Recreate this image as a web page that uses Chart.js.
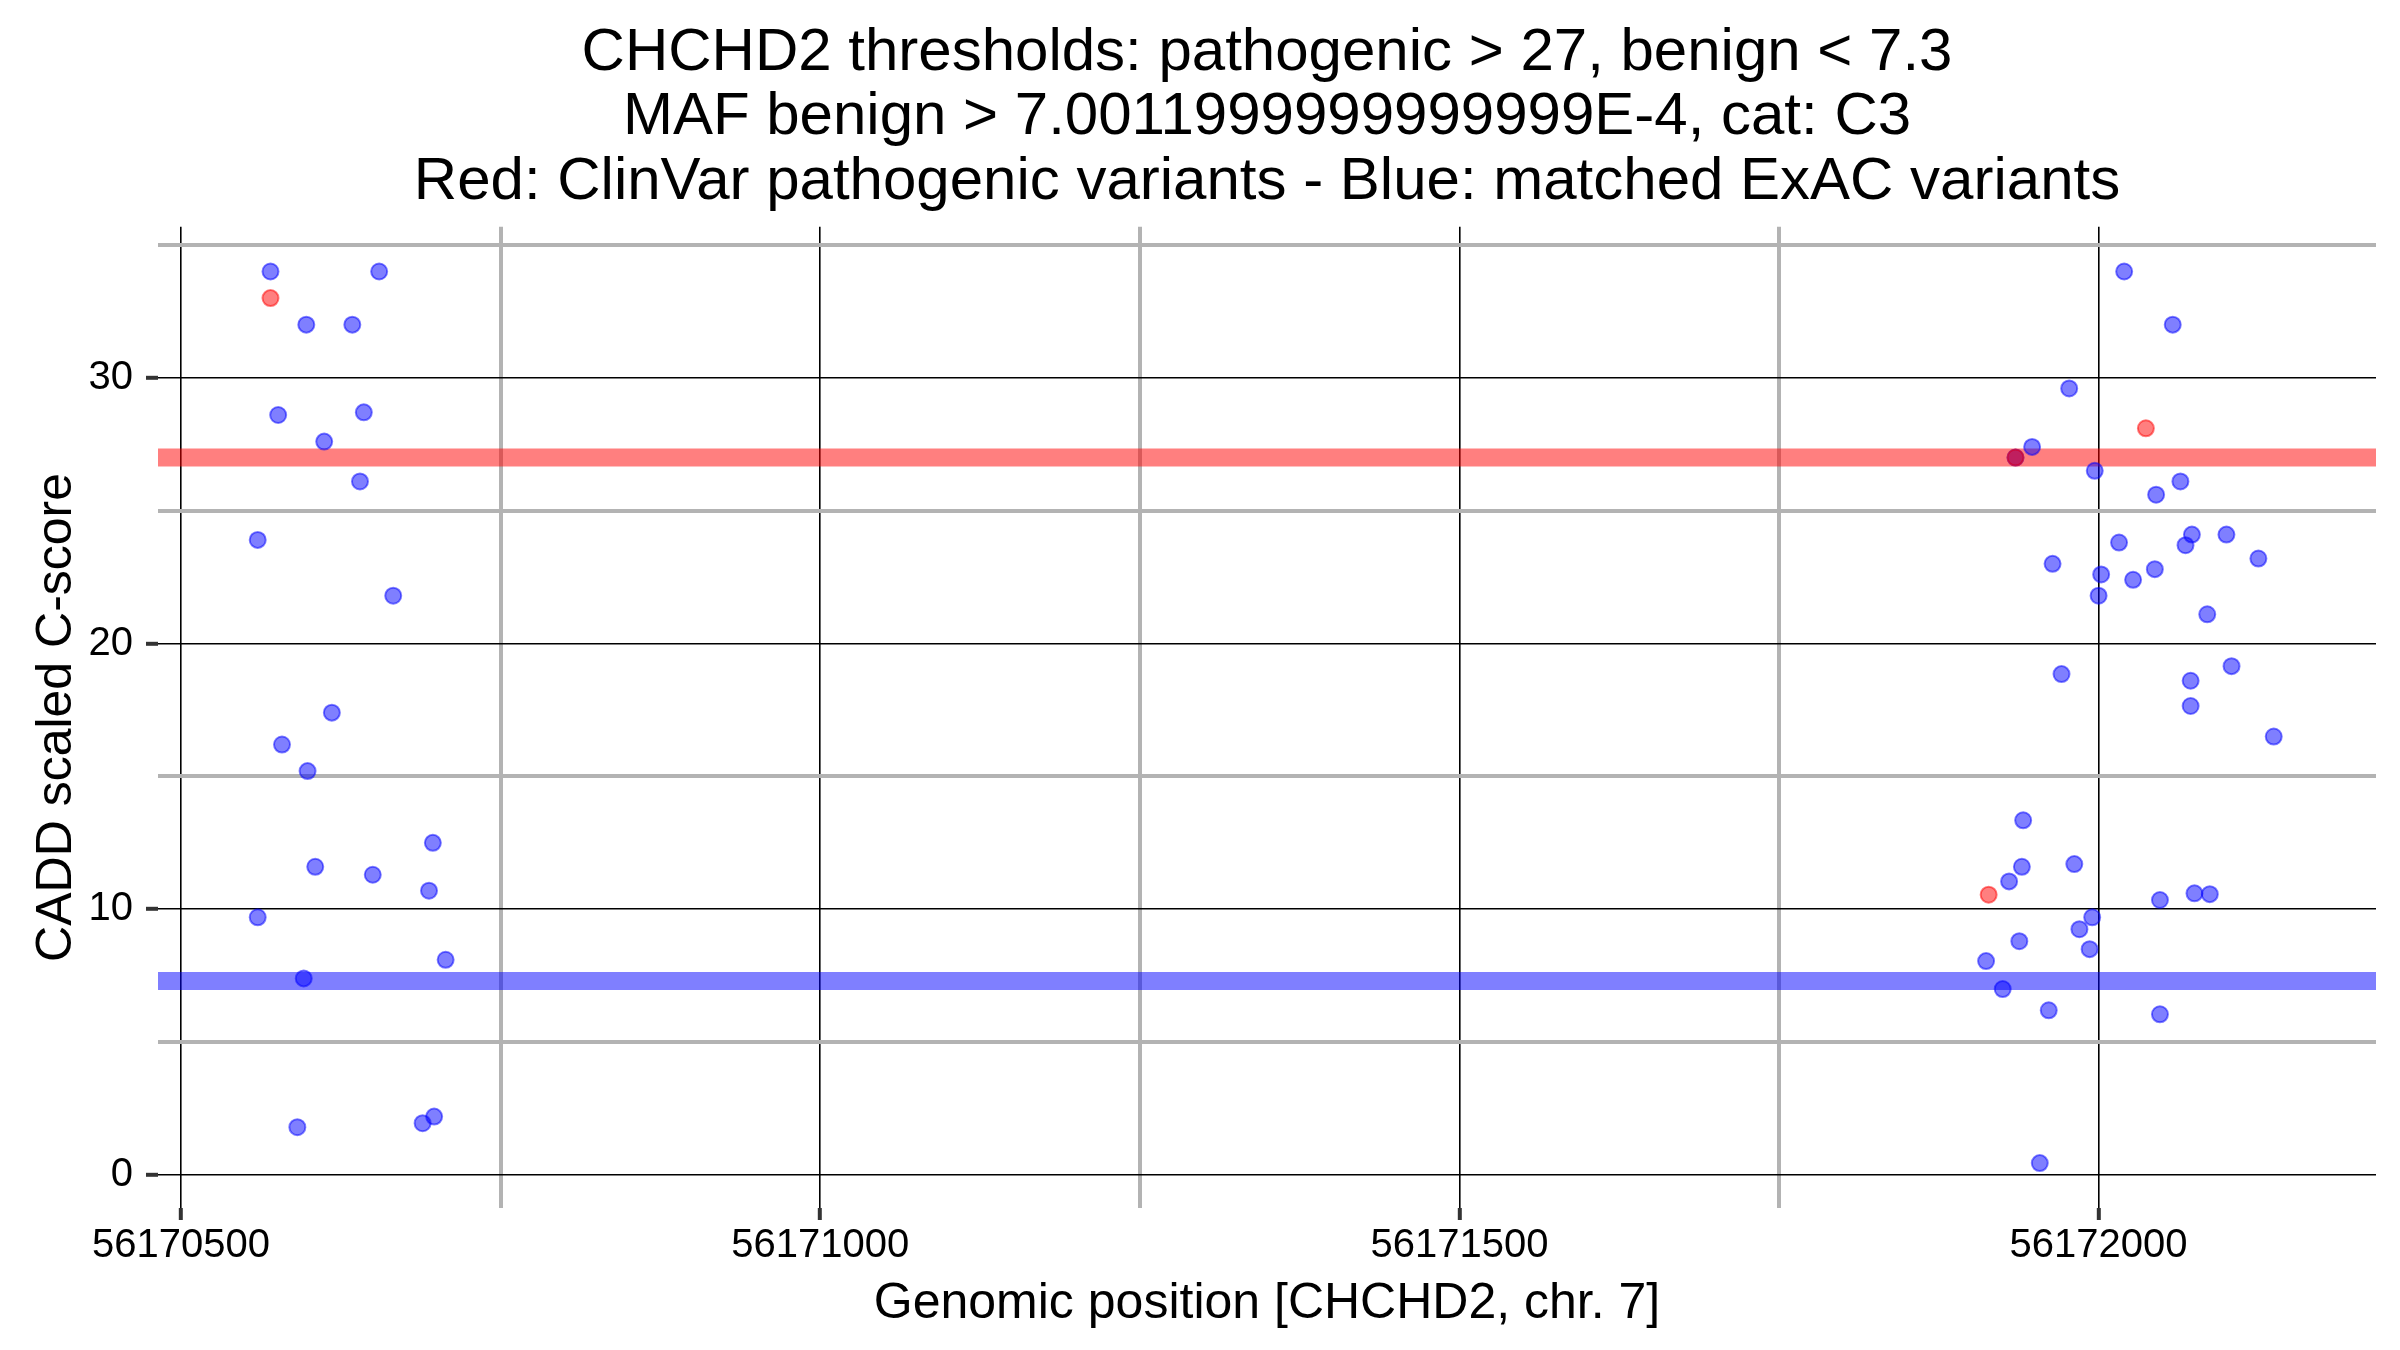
<!DOCTYPE html>
<html>
<head>
<meta charset="utf-8">
<script src="https://cdn.jsdelivr.net/npm/chart.js@4.4.1/dist/chart.umd.min.js"></script>
<style>
  html, body { margin: 0; padding: 0; background: #fff; }
  canvas { display: block; }
</style>
</head>
<body>
<canvas id="chart" width="2400" height="1350" style="width:2400px;height:1350px"></canvas>
<script>
const titleLines = [
    'CHCHD2 thresholds: pathogenic > 27, benign < 7.3',
    'MAF benign > 7.0011999999999999E-4, cat: C3',
    'Red: ClinVar pathogenic variants - Blue: matched ExAC variants'
];
const xTitle = 'Genomic position [CHCHD2, chr. 7]';
const yTitle = 'CADD scaled C-score';

const pathogenicThreshold = 27;
const benignThreshold = 7.3;

// axis ranges and ticks
const xMin = 56170482, xMax = 56172217;
const yMin = -1.24, yMax = 35.68;
const xMajorTicks = [56170500, 56171000, 56171500, 56172000];
const xMinorTicks = [56170750, 56171250, 56171750];
const yMajorTicks = [0, 10, 20, 30];
const yMinorTicks = [5, 15, 25, 35];

// matched ExAC variants (blue)
const exacPositions = [
    56170570, 56170655, 56170598, 56170634, 56170576, 56170643, 56170612, 56170640,
    56170560, 56170666, 56170618, 56170579, 56170599, 56170697, 56170605, 56170650,
    56170694, 56170560, 56170707, 56170596, 56170591, 56170689, 56170698,
    56172020, 56172058, 56171977, 56171948, 56171935, 56171997, 56172064, 56172045,
    56172073, 56172068, 56172100, 56172016, 56172125, 56171964, 56172002, 56172044,
    56172027, 56172000, 56172085, 56171971, 56172104, 56172072, 56172072, 56172137,
    56171941, 56171940, 56171981, 56171930, 56172048, 56172075, 56172087, 56171995,
    56171985, 56171938, 56171993, 56171912, 56171925, 56171961, 56172048, 56171954
];
const exacScores = [
    34.0, 34.0, 32.0, 32.0, 28.6, 28.7, 27.6, 26.1,
    23.9, 21.8, 17.4, 16.2, 15.2, 12.5, 11.6, 11.3,
    10.7, 9.7, 8.1, 7.4, 1.8, 1.95, 2.2,
    34.0, 32.0, 29.6, 27.4, 27.0, 26.5, 26.1, 25.6,
    24.1, 23.7, 24.1, 23.8, 23.2, 23.0, 22.6, 22.8,
    22.4, 21.8, 21.1, 18.85, 19.15, 18.6, 17.65, 16.5,
    13.35, 11.6, 11.7, 11.05, 10.35, 10.6, 10.57, 9.7,
    9.25, 8.8, 8.5, 8.05, 7.0, 6.2, 6.05, 0.45
];

// ClinVar pathogenic variants (red)
const clinvarPositions = [56170570, 56172037, 56171935, 56171914];
const clinvarScores = [33.0, 28.1, 27.0, 10.55];

const toPoints = (xs, ys) => xs.map((x, i) => ({ x: x, y: ys[i] }));

const xGridTicks = xMajorTicks.concat(xMinorTicks).sort((a, b) => a - b);
const yGridTicks = yMajorTicks.concat(yMinorTicks).sort((a, b) => a - b);

function gridStyle(majors) {
    const isMajor = ctx => ctx.tick && majors.includes(ctx.tick.value);
    return {
        color: ctx => isMajor(ctx) ? '#000000' : '#b3b3b3',
        lineWidth: ctx => isMajor(ctx) ? 1.6 : 4,
        tickColor: ctx => isMajor(ctx) ? '#333333' : 'rgba(0,0,0,0)',
        tickWidth: ctx => isMajor(ctx) ? 4 : 0,
        tickLength: 12
    };
}

Chart.defaults.font.family = '"Liberation Sans", Arial, sans-serif';
Chart.defaults.color = '#000';

new Chart(document.getElementById('chart').getContext('2d'), {
    type: 'scatter',
    data: {
        datasets: [
            {
                label: 'pathogenic threshold',
                data: [{ x: xMin, y: pathogenicThreshold }, { x: xMax, y: pathogenicThreshold }],
                showLine: true,
                borderColor: 'rgba(255,0,0,0.5)',
                borderWidth: 18,
                borderCapStyle: 'butt',
                pointRadius: 0,
                clip: 0,
                order: 3
            },
            {
                label: 'benign threshold',
                data: [{ x: xMin, y: benignThreshold }, { x: xMax, y: benignThreshold }],
                showLine: true,
                borderColor: 'rgba(0,0,255,0.5)',
                borderWidth: 18,
                borderCapStyle: 'butt',
                pointRadius: 0,
                clip: 0,
                order: 3
            },
            {
                label: 'matched ExAC variants',
                data: toPoints(exacPositions, exacScores),
                pointRadius: 8,
                pointBackgroundColor: 'rgba(0,0,255,0.5)',
                pointBorderColor: 'rgba(0,0,255,0.5)',
                pointBorderWidth: 2,
                order: 2
            },
            {
                label: 'ClinVar pathogenic variants',
                data: toPoints(clinvarPositions, clinvarScores),
                pointRadius: 8,
                pointBackgroundColor: 'rgba(255,0,0,0.5)',
                pointBorderColor: 'rgba(255,0,0,0.5)',
                pointBorderWidth: 2,
                order: 1
            }
        ]
    },
    options: {
        responsive: false,
        devicePixelRatio: 1,
        animation: false,
        layout: { padding: { left: 0, right: 24, top: 0, bottom: 0 } },
        plugins: {
            legend: { display: false },
            tooltip: { enabled: false },
            title: {
                display: true,
                fullSize: false,
                text: titleLines,
                color: '#000',
                font: { size: 60, weight: 'normal', lineHeight: 1.077 },
                padding: { top: 21, bottom: 12 }
            }
        },
        scales: {
            x: {
                type: 'linear',
                min: xMin,
                max: xMax,
                afterBuildTicks: s => { s.ticks = xGridTicks.map(v => ({ value: v })); },
                afterFit: s => { s.height = 142; },
                border: { display: false },
                grid: gridStyle(xMajorTicks),
                ticks: {
                    autoSkip: false,
                    maxRotation: 0,
                    padding: 2,
                    color: '#000',
                    font: { size: 40 },
                    callback: v => xMajorTicks.includes(v) ? String(v) : ''
                },
                title: {
                    display: true,
                    text: xTitle,
                    color: '#000',
                    font: { size: 50 },
                    padding: { top: 0, bottom: 16 }
                }
            },
            y: {
                type: 'linear',
                min: yMin,
                max: yMax,
                afterBuildTicks: s => { s.ticks = yGridTicks.map(v => ({ value: v })); },
                afterFit: s => { s.width = 158; },
                border: { display: false },
                grid: gridStyle(yMajorTicks),
                ticks: {
                    autoSkip: false,
                    padding: 13,
                    color: '#000',
                    font: { size: 40 },
                    callback: v => yMajorTicks.includes(v) ? String(v) : ''
                },
                title: {
                    display: true,
                    text: yTitle,
                    color: '#000',
                    font: { size: 50 },
                    padding: { top: 27, bottom: 0 }
                }
            }
        }
    }
});
</script>
</body>
</html>
